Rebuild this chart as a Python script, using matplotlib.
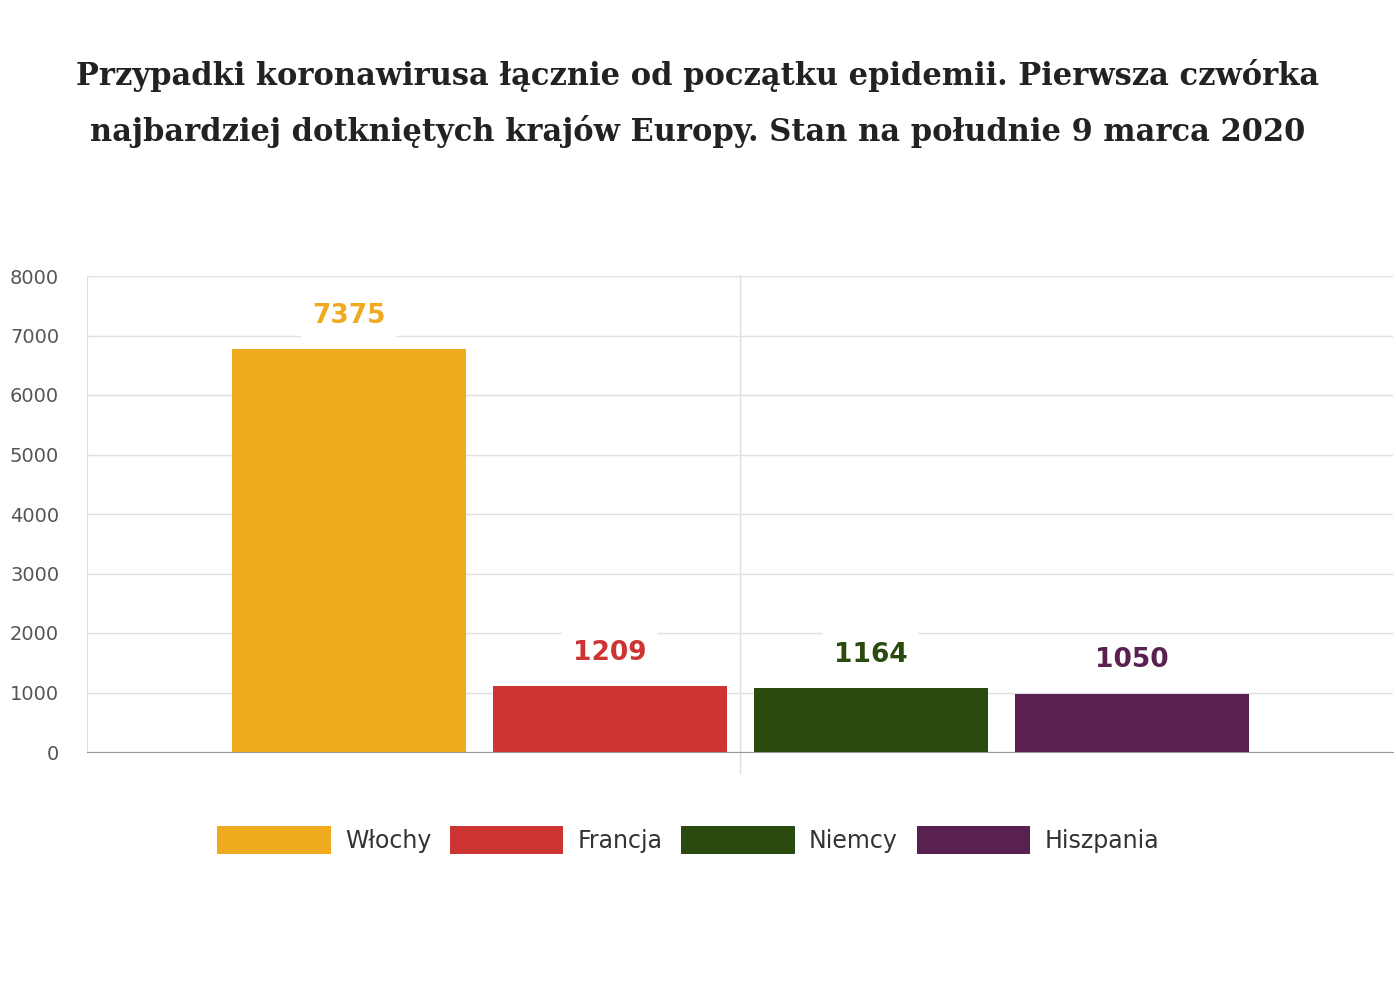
import matplotlib
matplotlib.use("Agg")
import matplotlib.pyplot as plt

countries = ["Włochy", "Francja", "Niemcy", "Hiszpania"]
bar_values = [6775, 1110, 1078, 978]
label_values = [7375, 1209, 1164, 1050]
colors = ["#f0aa1e", "#cd3434", "#2a4a0e", "#5a2150"]
yticks = [0, 1000, 2000, 3000, 4000, 5000, 6000, 7000, 8000]

fig = plt.figure(figsize=(13.96, 9.82), dpi=100)
ax = fig.add_axes([87/1396, 1-752/982, (1393-87)/1396, (752-276)/982])
offsets = [-1.5, -0.5, 0.5, 1.5]
step = 261/1306
w = 234/1306
for i, (c, v, lv, col) in enumerate(zip(countries, bar_values, label_values, colors)):
    x = offsets[i]*step
    ax.bar(x, v, width=w, color=col, label=c, zorder=3)
    ax.text(x, v + 560, str(lv), ha="center", va="center", fontsize=19, fontweight="bold",
            color=col, zorder=4, bbox=dict(facecolor="white", edgecolor="none", pad=8))
ax.set_xlim(-0.5, 0.5)
ax.set_ylim(0, 8000)
ax.set_yticks(yticks)
ax.set_yticklabels([str(t) for t in yticks], fontsize=14, color="#555555")
ax.set_xticks([])
ax.grid(axis="y", color="#e0e0e0", lw=1, zorder=0)
ax.axvline(0, ymin=-0.045, ymax=1, color="#dddddd", lw=1, clip_on=False, zorder=0)
for s in ["top", "right"]:
    ax.spines[s].set_visible(False)
ax.spines["left"].set_color("#dddddd")
ax.spines["bottom"].set_color("#999999")
ax.tick_params(axis="y", length=0, pad=20)
for lab in ax.get_yticklabels():
    lab.set_horizontalalignment("right")

leg = fig.legend(loc="center", bbox_to_anchor=(688/1396, 1-840/982), ncol=4, frameon=False,
                 fontsize=17, handlelength=4.8, handleheight=1.5, columnspacing=0.8, handletextpad=0.6)
for t in leg.get_texts():
    t.set_color("#333333")

fig.text(0.5, 1-75/982, "Przypadki koronawirusa łącznie od początku epidemii. Pierwsza czwórka",
         ha="center", va="center", fontsize=22, fontweight="bold", family="DejaVu Serif", color="#222222")
fig.text(0.5, 1-131/982, "najbardziej dotkniętych krajów Europy. Stan na południe 9 marca 2020",
         ha="center", va="center", fontsize=22, fontweight="bold", family="DejaVu Serif", color="#222222")
fig.savefig("out.png", dpi=100)
